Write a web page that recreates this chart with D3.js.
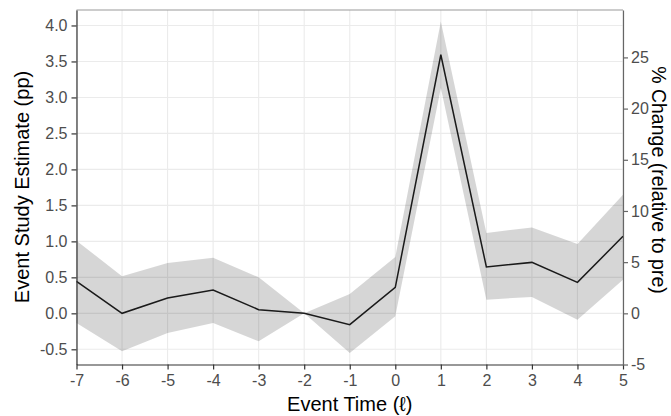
<!DOCTYPE html>
<html><head><meta charset="utf-8">
<script src="https://cdn.jsdelivr.net/npm/d3@7"></script>
<style>body{margin:0;background:#fff}svg{display:block;font-family:"Liberation Sans",Arial,sans-serif}</style>
</head><body>
<svg id="c" width="671" height="416"></svg>
<script>
const eventTime = [-7,-6,-5,-4,-3,-2,-1,0,1,2,3,4,5];
const estimate  = [0.444,0.0,0.214,0.325,0.051,0,-0.157,0.361,3.593,0.644,0.708,0.431,1.07];
const ciLower   = [-0.135,-0.528,-0.272,-0.134,-0.389,0,-0.55,-0.042,3.13,0.19,0.228,-0.088,0.468];
const ciUpper   = [1.01,0.514,0.70,0.774,0.50,0,0.27,0.783,4.056,1.117,1.194,0.964,1.649];
const leftTicks = [-0.5,0,0.5,1,1.5,2,2.5,3,3.5,4];
const rightTicks = [-5,0,5,10,15,20,25];
const pctPerPP = 7.03;

const rows = eventTime.map((t,i)=>({t, est:estimate[i], lo:ciLower[i], hi:ciUpper[i]}));
const svg = d3.select("#c");
const L=76.5, R=623, T=10, B=364.5;
const x = d3.scaleLinear().domain([-7,5]).range([L,R]);
const y = d3.scaleLinear().domain([-0.711,4.215]).range([B,T]);
const y2 = d3.scaleLinear().domain(y.domain().map(v=>v*pctPerPP)).range([B,T]);

// grid
svg.append("g").selectAll("line.h").data(leftTicks).join("line")
  .attr("x1",L).attr("x2",R).attr("y1",d=>y(d)).attr("y2",d=>y(d))
  .attr("stroke","#EBEBEB").attr("stroke-width",1.1);
svg.append("g").selectAll("line.v").data(eventTime).join("line")
  .attr("y1",T).attr("y2",B).attr("x1",d=>x(d)).attr("x2",d=>x(d))
  .attr("stroke","#EBEBEB").attr("stroke-width",1.1);

// band
svg.append("path").datum(rows)
  .attr("d", d3.area().x(d=>x(d.t)).y0(d=>y(d.lo)).y1(d=>y(d.hi)))
  .attr("fill","#000").attr("fill-opacity",0.16);
// line
svg.append("path").datum(rows)
  .attr("d", d3.line().x(d=>x(d.t)).y(d=>y(d.est)))
  .attr("fill","none").attr("stroke","#1a1a1a").attr("stroke-width",1.5);

// top border
svg.append("line").attr("x1",L).attr("x2",R).attr("y1",T).attr("y2",T).attr("stroke","#9a9a9a").attr("stroke-width",1.2);

function styleAxis(g, lineCol){
  g.selectAll("path").attr("stroke",lineCol).attr("stroke-width",1.2);
  g.selectAll(".tick line").attr("stroke",lineCol).attr("stroke-width",1.2);
  g.selectAll(".tick text").attr("fill","#4D4D4D").style("font-size","16px").style("font-family","'Liberation Sans',Arial,sans-serif");
}
const gl = svg.append("g").attr("transform",`translate(${L},0)`)
  .call(d3.axisLeft(y).tickValues(leftTicks).tickFormat(d3.format(".1f")).tickSize(5).tickSizeOuter(0).tickPadding(4));
styleAxis(gl,"#333");
gl.selectAll(".tick text").text(d=>d3.format(".1f")(d).replace("−","-"));
const gb = svg.append("g").attr("transform",`translate(0,${B})`)
  .call(d3.axisBottom(x).tickValues(eventTime).tickFormat(d=>String(d)).tickSize(5).tickSizeOuter(0).tickPadding(5));
styleAxis(gb,"#333");
const gr = svg.append("g").attr("transform",`translate(${R},0)`)
  .call(d3.axisRight(y2).tickValues(rightTicks).tickFormat(d=>String(d)).tickSize(5).tickSizeOuter(0).tickPadding(3));
styleAxis(gr,"#666");

// titles
svg.append("text").attr("transform",`translate(29,187) rotate(-90)`)
  .attr("text-anchor","middle").style("font-size","20px").attr("fill","#000").text("Event Study Estimate (pp)");
svg.append("text").attr("transform",`translate(652,180) rotate(90)`)
  .attr("text-anchor","middle").style("font-size","19.5px").attr("fill","#000").text("% Change (relative to pre)");
svg.append("text").attr("x",(L+R)/2).attr("y",411)
  .attr("text-anchor","middle").style("font-size","20px").attr("fill","#000").text("Event Time (\u2113)");
</script>
</body></html>
